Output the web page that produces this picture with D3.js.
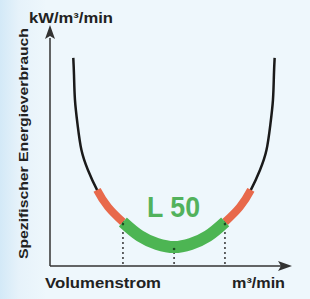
<!DOCTYPE html>
<html>
<head>
<meta charset="utf-8">
<script src="https://cdn.jsdelivr.net/npm/d3@7"></script>
<style>
  body { margin: 0; background: #eef7fc; }
  svg { display: block; }
  text { font-family: 'Liberation Sans', Arial, sans-serif; font-weight: bold; fill: #222; }
</style>
</head>
<body>
<div id="chart"></div>
<script>
// curve (volume flow vs specific energy, 0..100)
var flow   = [9.7, 10, 10.4, 11.5, 13.1, 15.8, 19.6, 24.2, 30.4, 37.5, 44.6, 51.7, 58.7, 65.8, 72.9, 79.1, 83.7, 87.5, 90.2, 91.8, 92.9, 93.3, 93.6]
var energy = [86.7, 79.6, 69.2, 58.8, 48.3, 40, 31.7, 24.6, 18.3, 12.5, 9.2, 7.9, 9.2, 12.5, 18.3, 24.6, 31.7, 40, 48.3, 58.8, 69.2, 79.6, 86.7]
// index ranges of the coloured parts
var redLeft = [6, 8]
var green = [8, 14]
var redRight = [14, 16]
var markers = [8, 11, 14]

var yTitle = 'Spezifischer Energieverbrauch'
var yUnit = 'kW/m\u00b3/min'
var xTitle = 'Volumenstrom'
var xUnit = 'm\u00b3/min'
var label = 'L 50'

var width = 310
var height = 299

var svg = d3.select('#chart')
	.append('svg')
	.attr('width', width)
	.attr('height', height)

var defs = svg.append('defs')
var bg = defs.append('linearGradient')
	.attr('id', 'bg')
bg.append('stop').attr('offset', '0%').attr('stop-color', '#d3e9f7')
bg.append('stop').attr('offset', '6%').attr('stop-color', '#e6f2fa')
bg.append('stop').attr('offset', '15%').attr('stop-color', '#eef7fc')
bg.append('stop').attr('offset', '100%').attr('stop-color', '#eef7fc')

svg.append('rect')
	.attr('width', width)
	.attr('height', height)
	.style('fill', 'url(#bg)')

var x = d3.scaleLinear().domain([0, 100]).range([50, 290])
var y = d3.scaleLinear().domain([0, 100]).range([266, 26])

var pts = flow.map(function (d, i) { return [d, energy[i]] })

var line = d3.line()
	.x(function (d) { return x(d[0]) })
	.y(function (d) { return y(d[1]) })
	.curve(d3.curveNatural)

// dotted drop lines
svg.append('g')
	.selectAll('line')
	.data(markers)
	.enter()
	.append('line')
	.attr('x1', function (i) { return x(flow[i]) })
	.attr('x2', function (i) { return x(flow[i]) })
	.attr('y1', function (i) { return y(energy[i]) })
	.attr('y2', y(0))
	.style('stroke', '#333')
	.style('stroke-width', 1.5)
	.style('stroke-dasharray', '2,3')

// axes with arrows
var axisColor = '#333'
svg.append('line')
	.attr('x1', x(0)).attr('x2', x(0))
	.attr('y1', y(0)).attr('y2', y(95))
	.style('stroke', axisColor).style('stroke-width', 1.5)
svg.append('line')
	.attr('x1', x(0)).attr('x2', x(99))
	.attr('y1', y(0)).attr('y2', y(0))
	.style('stroke', axisColor).style('stroke-width', 1.5)

svg.append('path')
	.attr('d', 'M' + x(0) + ',' + (y(95) - 13) + 'l-5,14l5,-3l5,3z')
	.style('fill', axisColor)
svg.append('path')
	.attr('d', 'M' + (x(100) + 2) + ',' + y(0) + 'l-14,-5l3,5l-3,5z')
	.style('fill', axisColor)

// curve
svg.append('path')
	.attr('d', line(pts))
	.style('fill', 'none')
	.style('stroke', '#1a1a1a')
	.style('stroke-width', 2.5)

// arc length on the curve nearest to a data point
function arcIndex(node, total, idx) {
	var tx = x(flow[idx]), ty = y(energy[idx])
	var best = 0, bestD = 1e9
	for (var s = 0; s <= total; s += 0.5) {
		var p = node.getPointAtLength(s)
		var dd = (p.x - tx) * (p.x - tx) + (p.y - ty) * (p.y - ty)
		if (dd < bestD) { bestD = dd; best = s }
	}
	return best
}

function segment(r, color, w) {
	var seg = svg.append('path')
		.attr('d', line(pts))
		.style('fill', 'none')
	var node = seg.node()
	var total = node.getTotalLength()
	var a = arcIndex(node, total, r[0])
	var b = arcIndex(node, total, r[1])
	seg.style('stroke', color)
		.style('stroke-width', w)
		.style('stroke-dasharray', '0,' + a + ',' + (b - a) + ',' + total)
}

segment(redLeft, '#e8694b', 8)
segment(redRight, '#e8694b', 8)
segment(green, '#4db553', 12)

// small dots where drop lines meet curve
svg.append('g')
	.selectAll('circle')
	.data(markers)
	.enter()
	.append('circle')
	.attr('cx', function (i) { return x(flow[i]) })
	.attr('cy', function (i) { return y(energy[i]) + 2 })
	.attr('r', 1.3)
	.style('fill', '#1d4d22')

// texts
svg.append('text')
	.attr('x', 29)
	.attr('y', 23)
	.style('font-size', '15px')
	.attr('textLength', 84)
	.attr('lengthAdjust', 'spacingAndGlyphs')
	.text(yUnit)

svg.append('text')
	.attr('transform', 'translate(28,' + 259 + ') rotate(-90)')
	.style('font-size', '13px')
	.attr('textLength', 231)
	.attr('lengthAdjust', 'spacingAndGlyphs')
	.text(yTitle)

svg.append('text')
	.attr('x', 45)
	.attr('y', 288)
	.style('font-size', '15px')
	.attr('textLength', 116)
	.attr('lengthAdjust', 'spacingAndGlyphs')
	.text(xTitle)

svg.append('text')
	.attr('x', 232)
	.attr('y', 288)
	.style('font-size', '15px')
	.attr('textLength', 53)
	.attr('lengthAdjust', 'spacingAndGlyphs')
	.text(xUnit)

svg.append('text')
	.attr('x', 147)
	.attr('y', 217)
	.style('font-size', '29px')
	.style('fill', '#52b25c')
	.attr('textLength', 53)
	.attr('lengthAdjust', 'spacingAndGlyphs')
	.text(label)
</script>
</body>
</html>
